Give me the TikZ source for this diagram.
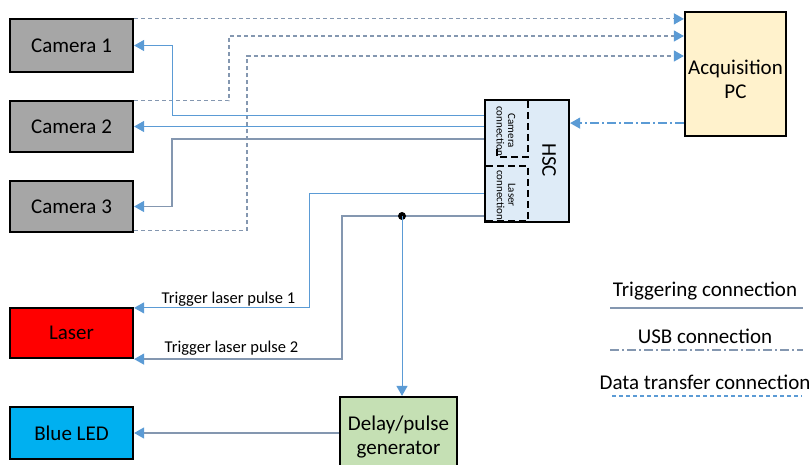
\documentclass[tikz,border=0pt]{standalone}
\usepackage{fontspec}
\setmainfont{Carlito}
\usetikzlibrary{arrows.meta}
\definecolor{trig}{HTML}{5B9BD5}
\definecolor{slate}{HTML}{8497B0}
\definecolor{camgray}{HTML}{A6A6A6}
\definecolor{ledblue}{HTML}{00B0F0}
\definecolor{hscfill}{HTML}{DEEBF7}
\definecolor{pcfill}{HTML}{FFF2CC}
\definecolor{delayfill}{HTML}{C5E0B4}
\begin{document}
\begin{tikzpicture}[x=1pt,y=-1pt,
  box/.style={draw=black, line width=2.2pt, inner sep=0pt, align=center,
    font=\fontsize{21}{24}\selectfont},
  boxtext/.style={font=\fontsize{21}{24}\selectfont, align=center, inner sep=0pt},
  trigline/.style={draw=trig, line width=1pt},
  slateline/.style={draw=slate, line width=1.2pt},
  dataline/.style={draw=slate, line width=1.2pt, dash pattern=on 4pt off 3pt},
  usbline/.style={draw=trig, line width=1.2pt, dash pattern=on 9pt off 3pt on 2pt off 3pt},
  tip/.style={-{Triangle[length=10pt,width=11pt,color=trig]}},
  hscdash/.style={draw=black, line width=1.8pt, dash pattern=on 7pt off 4pt},
  small/.style={font=\fontsize{11}{11.5}\selectfont, inner sep=0pt},
  legend/.style={font=\fontsize{21}{24}\selectfont, inner sep=0pt},
  pulse/.style={font=\fontsize{16.5}{19}\selectfont, inner sep=0pt}]
\useasboundingbox (0,0) rectangle (812,465);
\clip (0,0) rectangle (812,465);

% equipment boxes
\node[box, fill=camgray, minimum width=123pt, minimum height=53pt] (cam1) at (71.5,45.5) {Camera 1};
\node[box, fill=camgray, minimum width=123pt, minimum height=51pt] (cam2) at (71.5,126.5) {Camera 2};
\node[box, fill=camgray, minimum width=123pt, minimum height=51pt] (cam3) at (71.5,206.5) {Camera 3};
\node[box, fill=red, minimum width=123pt, minimum height=50pt] (laser) at (71.5,333) {Laser};
\node[box, fill=ledblue, minimum width=123pt, minimum height=52pt] (led) at (71.5,433) {Blue LED};
\node[box, fill=hscfill, minimum width=84pt, minimum height=122pt] (hsc) at (527,161) {};
\node[box, fill=pcfill, minimum width=101pt, minimum height=124pt] (pc) at (735.5,74) {};
\node[boxtext] (pctext) at (735.5,79) {Acquisition\\PC};
\node[box, fill=delayfill, minimum width=117pt, minimum height=80pt] (delay) at (398.5,437) {};
\node[boxtext] (delaytext) at (398.5,437) {Delay/pulse\\generator};

% inside of the HSC box
\draw[hscdash] (528,101) -- (528,157) -- (497,157) -- (497,146);
\draw[hscdash] (486,166) -- (528,166) -- (528,221) -- (486,221);
\node[small, rotate=-90, align=center] (camconn) at (506,131) {Camera\\connection};
\node[small, rotate=-90, align=center] (lasconn) at (506,195) {Laser\\connection};
\node[font=\fontsize{21}{24}\selectfont, rotate=-90, inner sep=0pt] (hsclabel) at (549,160) {HSC};

% data transfer: cameras to acquisition PC
\coordinate (d2) at (229,36);
\coordinate (d3) at (247,56);
\draw[dataline, tip] ([yshift=-1pt]cam1.north east) -- ([yshift=-1pt]pc.north west |- cam1.north east);
\draw[dataline, tip] ([yshift=-1pt]cam2.north east) -| (d2) -- (d2 -| pc.west);
\draw[dataline, tip] ([yshift=2.5pt]cam3.south east) -| (d3) -- (d3 -| pc.west);

% USB: acquisition PC to HSC
\coordinate (usb) at ([yshift=14pt]pc.south west);
\draw[usbline, tip] (usb) -- (usb -| hsc.east);

% triggering: HSC to cameras
\coordinate (t1) at (172,116);
\coordinate (t3) at (172,139);
\draw[trigline, tip] (t1 -| hsc.west) -- (t1) |- (cam1.east);
\draw[trigline, tip] (cam2.east -| hsc.west) -- (cam2.east);
\draw[slateline, tip] (t3 -| hsc.west) -- (t3) |- (cam3.east);

% triggering: HSC to laser
\coordinate (p1) at (309,194);
\coordinate (p2) at (342,216);
\draw[trigline, tip] (p1 -| hsc.west) -- (p1) |- ([yshift=-1pt]laser.north east);
\node[pulse] (pulse1) at (228.5,299) {Trigger laser pulse 1};
\draw[slateline, tip] (p2 -| hsc.west) -- (p2) |- (laser.south east);
\node[pulse] (pulse2) at (231.5,348) {Trigger laser pulse 2};

% branch to delay generator, then to the LED
\coordinate (junction) at (402,216);
\fill (junction) circle (4pt);
\draw[trigline, tip] (junction) -- (junction |- delay.north);
\draw[slateline, tip] (led.east -| delay.west) -- (led.east);

% legend
\node[legend] (lgtrig) at (705,291) {Triggering connection};
\draw[draw=slate, line width=1.2pt] (610,308) -- (803,308);
\node[legend] (lgusb) at (705,336) {USB connection};
\draw[draw=slate, line width=1.2pt, dash pattern=on 9pt off 3pt on 2pt off 3pt] (610,350) -- (803,350);
\node[legend] (lgdata) at (705,382) {Data transfer connection};
\draw[draw=trig, line width=1.2pt, dash pattern=on 4pt off 3pt] (612,396) -- (802,396);
\end{tikzpicture}
\end{document}
